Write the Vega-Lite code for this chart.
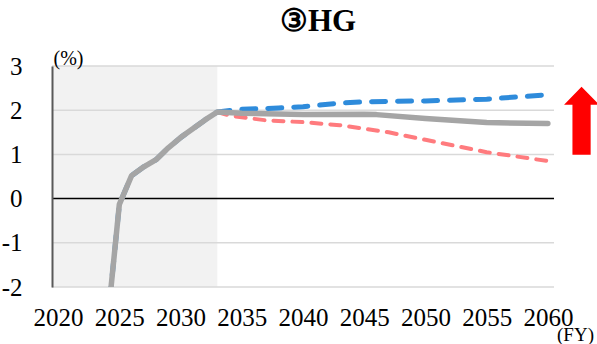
{
  "$schema": "https://vega.github.io/schema/vega-lite/v6.json",
  "autosize": "none",
  "width": 502,
  "height": 221,
  "padding": {"left": 52, "top": 66, "right": 43, "bottom": 57},
  "background": "white",
  "config": {
    "font": "Liberation Serif",
    "view": {"stroke": null}
  },
  "title": {
    "text": "③HG",
    "font": "Liberation Serif",
    "fontWeight": "bold",
    "fontSize": 31,
    "color": "black",
    "anchor": "middle",
    "dx": 15,
    "offset": 10
  },
  "datasets": {
    "periods": [
      {"period": "actual", "start": 2019.5, "end": 2033, "low": -2, "high": 3}
    ],
    "levels": [
      {"level": -2},
      {"level": -1},
      {"level": 0},
      {"level": 1},
      {"level": 2},
      {"level": 3}
    ],
    "growth": [
      {"year": 2024, "value": -2.9, "scenario": "base"},
      {"year": 2025, "value": -0.13, "scenario": "base"},
      {"year": 2026, "value": 0.52, "scenario": "base"},
      {"year": 2027, "value": 0.72, "scenario": "base"},
      {"year": 2028, "value": 0.88, "scenario": "base"},
      {"year": 2029, "value": 1.15, "scenario": "base"},
      {"year": 2030, "value": 1.38, "scenario": "base"},
      {"year": 2031, "value": 1.58, "scenario": "base"},
      {"year": 2032, "value": 1.78, "scenario": "base"},
      {"year": 2033, "value": 1.96, "scenario": "base"},
      {"year": 2035, "value": 1.93, "scenario": "base"},
      {"year": 2040, "value": 1.9, "scenario": "base"},
      {"year": 2045, "value": 1.91, "scenario": "base"},
      {"year": 2046, "value": 1.9, "scenario": "base"},
      {"year": 2050, "value": 1.81, "scenario": "base"},
      {"year": 2055, "value": 1.72, "scenario": "base"},
      {"year": 2060, "value": 1.7, "scenario": "base"},

      {"year": 2024, "value": -2.9, "scenario": "high"},
      {"year": 2025, "value": -0.13, "scenario": "high"},
      {"year": 2026, "value": 0.52, "scenario": "high"},
      {"year": 2027, "value": 0.72, "scenario": "high"},
      {"year": 2028, "value": 0.88, "scenario": "high"},
      {"year": 2029, "value": 1.15, "scenario": "high"},
      {"year": 2030, "value": 1.38, "scenario": "high"},
      {"year": 2031, "value": 1.58, "scenario": "high"},
      {"year": 2032, "value": 1.78, "scenario": "high"},
      {"year": 2033, "value": 1.96, "scenario": "high"},
      {"year": 2035, "value": 2.02, "scenario": "high"},
      {"year": 2038, "value": 2.05, "scenario": "high"},
      {"year": 2040, "value": 2.08, "scenario": "high"},
      {"year": 2043, "value": 2.16, "scenario": "high"},
      {"year": 2045, "value": 2.19, "scenario": "high"},
      {"year": 2050, "value": 2.21, "scenario": "high"},
      {"year": 2055, "value": 2.25, "scenario": "high"},
      {"year": 2060, "value": 2.35, "scenario": "high"},

      {"year": 2033, "value": 1.96, "scenario": "low"},
      {"year": 2034, "value": 1.88, "scenario": "low"},
      {"year": 2035, "value": 1.84, "scenario": "low"},
      {"year": 2037, "value": 1.77, "scenario": "low"},
      {"year": 2040, "value": 1.73, "scenario": "low"},
      {"year": 2043, "value": 1.66, "scenario": "low"},
      {"year": 2045, "value": 1.58, "scenario": "low"},
      {"year": 2047, "value": 1.5, "scenario": "low"},
      {"year": 2050, "value": 1.33, "scenario": "low"},
      {"year": 2055, "value": 1.05, "scenario": "low"},
      {"year": 2060, "value": 0.85, "scenario": "low"}
    ]
  },
  "encoding": {
    "x": {
      "type": "quantitative",
      "scale": {"domain": [2019.5, 2060.5], "nice": false, "zero": false},
      "axis": {
        "values": [2020, 2025, 2030, 2035, 2040, 2045, 2050, 2055, 2060],
        "format": "d",
        "grid": false,
        "domain": false,
        "ticks": false,
        "tickSize": 0,
        "labelPadding": 18,
        "labelFont": "Liberation Serif",
        "labelFontSize": 25,
        "labelColor": "black",
        "labelOverlap": false,
        "labelFlush": false,
        "title": "(FY)",
        "titleFont": "Liberation Serif",
        "titleFontSize": 19,
        "titleFontWeight": "normal",
        "titleColor": "black",
        "titleAngle": 0,
        "titleAlign": "center",
        "titleBaseline": "alphabetic",
        "titleX": 523,
        "titleY": 53
      }
    },
    "y": {
      "type": "quantitative",
      "scale": {"domain": [-2, 3], "nice": false, "zero": false},
      "axis": {
        "values": [-2, -1, 0, 1, 2, 3],
        "labelExpr": "datum.value < 0 ? '-' + abs(datum.value) : '' + datum.value",
        "grid": false,
        "zindex": 1,
        "domain": true,
        "domainColor": "#595959",
        "domainWidth": 2,
        "ticks": false,
        "tickSize": 0,
        "labelPadding": 30,
        "labelFont": "Liberation Serif",
        "labelFontSize": 25,
        "labelColor": "black",
        "title": "(%)",
        "titleFont": "Liberation Serif",
        "titleFontSize": 20,
        "titleFontWeight": "normal",
        "titleColor": "black",
        "titleAngle": 0,
        "titleAlign": "center",
        "titleBaseline": "alphabetic",
        "titleX": 16,
        "titleY": -2
      }
    }
  },
  "layer": [
    {
      "data": {"name": "periods"},
      "mark": {"type": "rect", "color": "#F2F2F2", "opacity": 1},
      "encoding": {
        "x": {"field": "start"},
        "x2": {"field": "end"},
        "y": {"field": "low"},
        "y2": {"field": "high"}
      }
    },
    {
      "data": {"name": "levels"},
      "transform": [{"filter": "datum.level !== 0"}],
      "mark": {"type": "rule", "color": "#D9D9D9", "strokeWidth": 1.5},
      "encoding": {"y": {"field": "level"}}
    },
    {
      "data": {"name": "levels"},
      "transform": [{"filter": "datum.level === 0"}],
      "mark": {"type": "rule", "color": "black", "strokeWidth": 1.5},
      "encoding": {"y": {"field": "level"}}
    },
    {
      "data": {"name": "growth"},
      "transform": [{"filter": "datum.scenario === 'low'"}],
      "mark": {"type": "line", "clip": true, "color": "#FF7B7E", "strokeWidth": 4, "strokeDash": [10, 9], "strokeCap": "round", "strokeJoin": "round"},
      "encoding": {"x": {"field": "year"}, "y": {"field": "value"}}
    },
    {
      "data": {"name": "growth"},
      "transform": [{"filter": "datum.scenario === 'high'"}],
      "mark": {"type": "line", "clip": true, "color": "#2E8BDB", "strokeWidth": 5, "strokeDash": [14, 12], "strokeCap": "round", "strokeJoin": "round"},
      "encoding": {"x": {"field": "year"}, "y": {"field": "value"}}
    },
    {
      "data": {"name": "growth"},
      "transform": [{"filter": "datum.scenario === 'base'"}],
      "mark": {"type": "line", "clip": true, "color": "#A5A5A5", "strokeWidth": 5.5, "strokeCap": "round", "strokeJoin": "round"},
      "encoding": {"x": {"field": "year"}, "y": {"field": "value"}}
    },
    {
      "data": {"values": [{"note": "upside"}]},
      "mark": {
        "type": "point",
        "shape": "M0,-0.97 L0.5,-0.46 L0.26,-0.46 L0.26,0.97 L-0.26,0.97 L-0.26,-0.46 L-0.5,-0.46 Z",
        "size": 4900,
        "filled": true,
        "fill": "#FF0000",
        "strokeWidth": 0,
        "opacity": 1,
        "clip": false
      },
      "encoding": {"x": {"datum": 2062.75}, "y": {"datum": 1.76}}
    }
  ]
}
